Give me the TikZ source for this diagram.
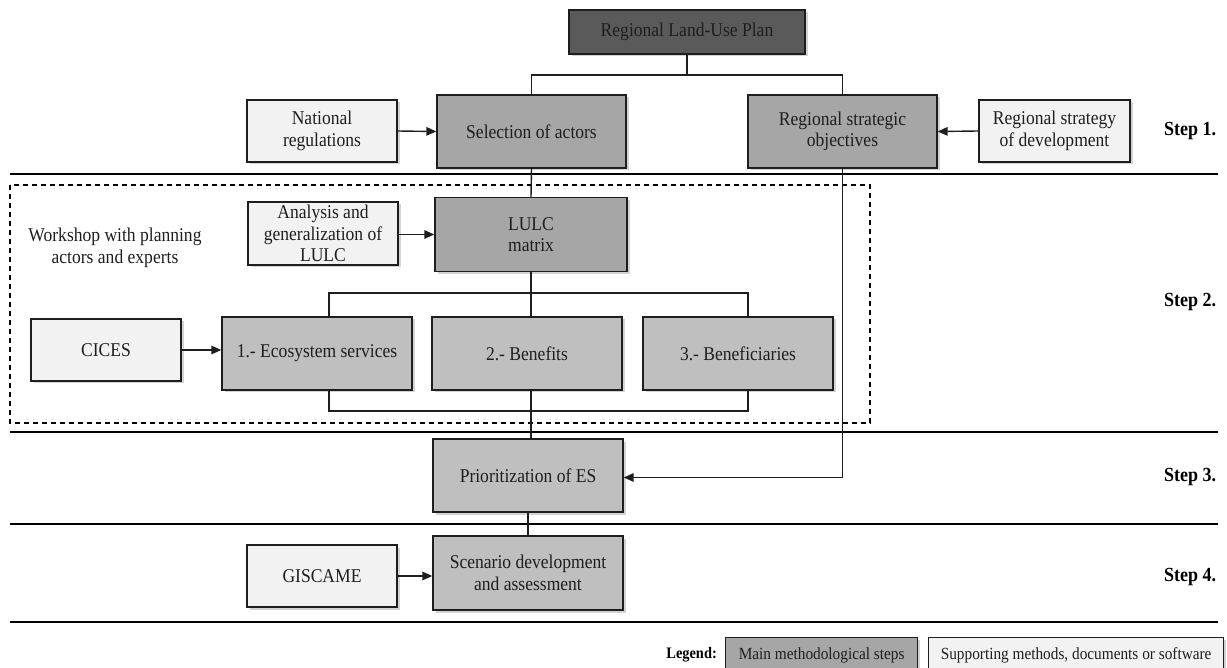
\documentclass[tikz,border=0pt]{standalone}
\usepackage{fontspec}
\setmainfont[FakeStretch=0.9]{Liberation Serif}
\usetikzlibrary{shadows,arrows.meta,positioning}
\definecolor{topfill}{HTML}{5A5A5A}
\definecolor{mainfill}{HTML}{A6A6A6}
\definecolor{subfill}{HTML}{BFBFBF}
\definecolor{supfill}{HTML}{F2F2F2}
\definecolor{inkgray}{HTML}{1E1E1E}
\tikzset{
  box/.style={draw=inkgray, line width=1.3pt, align=center, inner sep=0pt,
    text=inkgray, font=\fontsize{19.5}{21.5}\selectfont,
    drop shadow={shadow xshift=2.5pt, shadow yshift=-2.5pt, opacity=0.35}},
  topbox/.style={box, fill=topfill, minimum width=236pt, minimum height=44pt},
  mainbox/.style={box, fill=mainfill, minimum width=189pt, minimum height=73pt},
  subbox/.style={box, fill=subfill, minimum width=190pt, minimum height=73pt},
  supbox/.style={box, fill=supfill, minimum width=150pt, minimum height=62pt},
  link/.style={draw=inkgray, line width=1.4pt},
  feed/.style={link, -{Triangle[length=10pt,width=8.5pt]}},
  rule/.style={draw=black, line width=2pt},
  steplabel/.style={font=\bfseries\fontsize{20}{22}\selectfont, text=black},
  legendbox/.style={box, font=\fontsize{17}{19}\selectfont, minimum height=36pt}
}
\begin{document}
\begin{tikzpicture}[x=1pt, y=-1pt]
\useasboundingbox (0,0) rectangle (1227,668);

% step separators
\foreach \yy in {174,432,524,622} \draw[rule] (10,\yy) -- (1218,\yy);

% workshop frame
\draw[draw=black, line width=1.2pt, dash pattern=on 5pt off 4pt] (10,185) rectangle (870,423);
\node[text=inkgray, align=center, font=\fontsize{19.5}{21.5}\selectfont] (ws) at (115,248)
  {Workshop with planning\\actors and experts};

% step 1
\node[topbox] (plan) at (687,32) {Regional Land-Use Plan};
\node[mainbox] (sel) at (531.5,131.5) {Selection of actors};
\node[mainbox] (obj) at (842.5,131.5) {Regional strategic\\objectives};
\node[supbox] (nat) at (322,131) {National\\regulations};
\node[supbox, minimum width=151pt] (strat) at (1054.5,131) {Regional strategy\\of development};

% step 2
\node[mainbox, minimum width=192pt, minimum height=74pt] (lulc) at (531,234.5) {LULC\\matrix};
\node[supbox, minimum height=63pt] (ana) at (323,233.5) {Analysis and\\generalization of\\LULC};
\node[subbox] (eco) at (317,353.5) {1.- Ecosystem services};
\node[subbox] (bnf) at (527,353.5) {2.- Benefits};
\node[subbox] (bcy) at (738,353.5) {3.- Beneficiaries};
\node[supbox] (cices) at (106,350) {CICES};

% step 3 and 4
\node[subbox] (prio) at (528,475.5) {Prioritization of ES};
\node[subbox, minimum height=74pt] (scen) at (528,573) {Scenario development\\and assessment};
\node[supbox] (gis) at (322,576) {GISCAME};

% step labels
\node[steplabel] (s1) at (1190,131) {Step 1.};
\node[steplabel] (s2) at (1190,302) {Step 2.};
\node[steplabel] (s3) at (1190,477) {Step 3.};
\node[steplabel] (s4) at (1190,577) {Step 4.};

% connectors
\coordinate (topbar) at (687,75);
\draw[link] (plan.south) -- (topbar);
\draw[link] (sel.north) |- (topbar) -| (obj.north);
\draw[feed] (nat.east) -- (sel.west);
\draw[feed] (strat.west) -- (obj.east);

\draw[link] (sel.south) -- (lulc.north);
\draw[feed] (ana.east |- lulc.west) -- (lulc.west);

\coordinate (esbar) at (531,293);
\coordinate (esbot) at (531,411);
\draw[link] (lulc.south) -- (esbar);
\draw[link] ([xshift=12pt]eco.north) |- (esbar) -| ([xshift=10pt]bcy.north);
\draw[link] (esbar) -- (esbar |- bnf.north);
\draw[link] ([xshift=12pt]eco.south) |- (esbot) -| ([xshift=10pt]bcy.south);
\draw[link] (esbot |- bnf.south) -- (esbot) -- (esbot |- prio.north);
\draw[feed] (cices.east) -- (eco.west |- cices.east);

\draw[feed] (obj.south) |- ([yshift=-2pt]prio.east);
\draw[link] (prio.south) -- (scen.north);
\draw[feed] (gis.east) -- (scen.west |- gis.east);

% legend
\node[steplabel, font=\bfseries\fontsize{16}{18}\selectfont, anchor=east, inner sep=0pt] (leg) at (717,655) {Legend:};
\node[legendbox, fill=mainfill, minimum width=192pt, anchor=north west] (lmain) at (725,637) {Main methodological steps\strut};
\node[legendbox, fill=supfill, minimum width=295pt, anchor=north west] (lsup) at (928,637) {Supporting methods, documents or software\strut};
\end{tikzpicture}
\end{document}
